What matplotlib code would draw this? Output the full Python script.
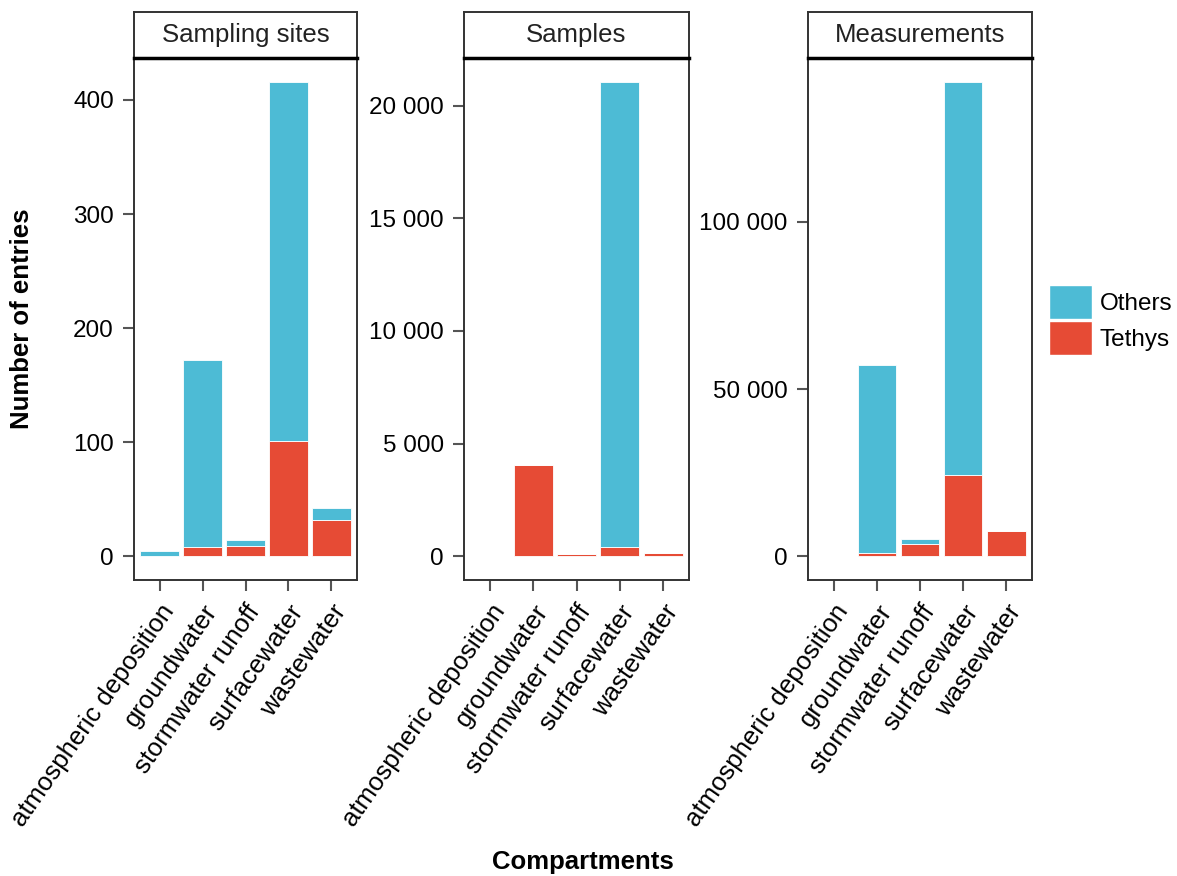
import matplotlib.pyplot as plt
from matplotlib.patches import Patch
from matplotlib.ticker import FuncFormatter

plt.rcParams['font.family'] = ['Liberation Sans', 'DejaVu Sans']

#### data
compartments = ['atmospheric deposition', 'groundwater', 'stormwater runoff',
                'surfacewater', 'wastewater']
panels = ['Sampling sites', 'Samples', 'Measurements']

sites_tethys = [0, 8, 9, 101, 32]
sites_others = [5, 164, 5, 315, 10]
samples_tethys = [0, 4030, 80, 400, 150]
samples_others = [0, 0, 40, 20660, 0]
meas_tethys = [0, 900, 3570, 24200, 7650]
meas_others = [0, 56240, 1490, 117760, 0]

yticks = [[0, 100, 200, 300, 400],
          [0, 5000, 10000, 15000, 20000],
          [0, 50000, 100000]]

col_others = '#4DBBD5'
col_tethys = '#E64B35'

W, H = 1177, 876
fig = plt.figure(figsize=(W / 100, H / 100), dpi=100)

# panel boxes in pixels: left, right
lefts = [134, 464, 808]
rights = [357, 689, 1032]
top, bottom, strip_top = 58, 580, 12

data = [(sites_tethys, sites_others), (samples_tethys, samples_others),
        (meas_tethys, meas_others)]

fmt = FuncFormatter(lambda v, p: '{:,.0f}'.format(v).replace(',', ' '))

for i in range(3):
    l, r = lefts[i], rights[i]
    ax = fig.add_axes([l / W, (H - bottom) / H, (r - l) / W, (bottom - top) / H])
    teth, oth = data[i]
    x = range(len(compartments))
    ax.bar(x, teth, width=0.9, color=col_tethys, edgecolor='white', linewidth=0.6)
    ax.bar(x, oth, width=0.9, bottom=teth, color=col_others, edgecolor='white', linewidth=0.6)
    tot = max(a + b for a, b in zip(teth, oth))
    ax.set_ylim(-0.05 * tot, 1.05 * tot)
    ax.set_xlim(-0.6, 4.6)
    ax.set_yticks(yticks[i])
    ax.yaxis.set_major_formatter(fmt)
    ax.set_xticks(list(x))
    ax.set_xticklabels(compartments, rotation=55, ha='right', va='top',
                       rotation_mode='anchor', fontsize=18.5)
    ax.tick_params(axis='y', labelsize=17.5)
    ax.tick_params(length=8, width=1.5, color='#555555', labelcolor='black', pad=6.5)
    for s in ax.spines.values():
        s.set_color('#333333')
        s.set_linewidth(1.4)

    # strip on top
    sx = fig.add_axes([l / W, (H - top) / H, (r - l) / W, (top - strip_top) / H])
    sx.set_xticks([])
    sx.set_yticks([])
    for s in sx.spines.values():
        s.set_color('#333333')
        s.set_linewidth(1.4)
    sx.spines['bottom'].set_linewidth(2.5)
    sx.spines['bottom'].set_color('black')
    sx.text(0.5, 0.5, panels[i], ha='center', va='center', fontsize=18.5,
            color='#222222', transform=sx.transAxes)

fig.text(22 / W, 1 - 319 / H, 'Number of entries', rotation=90, ha='center',
         va='center', fontsize=18.5, fontweight='bold')
fig.text(583 / W, 1 - 862 / H, 'Compartments', ha='center', va='center',
         fontsize=18.5, fontweight='bold')

handles = [Patch(facecolor=col_others, edgecolor='white', label='Others'),
           Patch(facecolor=col_tethys, edgecolor='white', label='Tethys')]
fig.legend(handles=handles, loc='center left', bbox_to_anchor=(1049 / W, 1 - 320 / H),
           frameon=False, fontsize=17.5, handlelength=1.75, handleheight=1.75,
           labelspacing=0.08, handletextpad=0.33, borderaxespad=0, borderpad=0)

plt.savefig('out.png', dpi=100)
